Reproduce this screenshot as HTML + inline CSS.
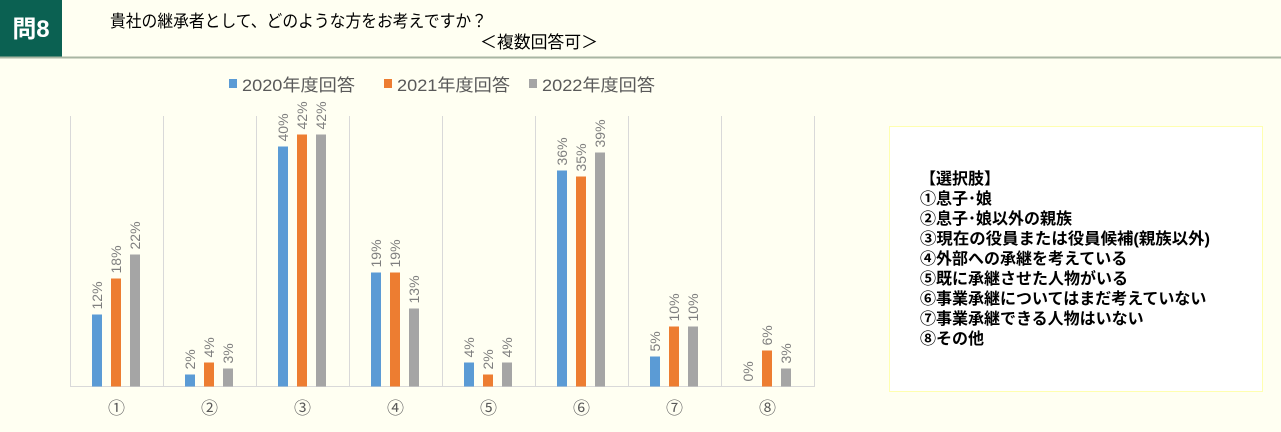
<!DOCTYPE html>
<html><head><meta charset="utf-8"><style>
body{margin:0;background:#fffff2;width:1281px;height:432px;overflow:hidden;font-family:"Liberation Sans","Noto Sans CJK JP",sans-serif}
</style></head><body>
<svg width="1281" height="432" xmlns="http://www.w3.org/2000/svg" style="position:absolute;left:0;top:0">
<rect x="0" y="0" width="1281" height="432" fill="#fffff2"/>
<rect x="0" y="0" width="62" height="57" fill="#0b6152"/>
<text x="31" y="37" fill="#fff" font-size="24" font-weight="bold" text-anchor="middle" font-family="Liberation Sans, Noto Sans CJK JP, sans-serif">問8</text>
<line x1="0" y1="57.5" x2="1281" y2="57.5" stroke="#a9b6a3" stroke-width="2"/>
<text x="110" y="27" font-size="17" fill="#000" textLength="377" lengthAdjust="spacingAndGlyphs" font-family="Liberation Sans, Noto Sans CJK JP, sans-serif">貴社の継承者として、どのような方をお考えですか？</text>
<text x="480" y="48" font-size="17" fill="#000" textLength="118" lengthAdjust="spacingAndGlyphs" font-family="Liberation Sans, Noto Sans CJK JP, sans-serif">＜複数回答可＞</text>
<g font-size="17" fill="#595959" font-family="Liberation Sans, Noto Sans CJK JP, sans-serif">
<rect x="229" y="79" width="8" height="9" fill="#5b9bd5"/><text x="242" y="91" textLength="113" lengthAdjust="spacingAndGlyphs">2020年度回答</text>
<rect x="384" y="79" width="8" height="9" fill="#ed7d31"/><text x="397" y="91" textLength="113" lengthAdjust="spacingAndGlyphs">2021年度回答</text>
<rect x="529" y="79" width="8" height="9" fill="#a5a5a5"/><text x="542" y="91" textLength="113" lengthAdjust="spacingAndGlyphs">2022年度回答</text>
</g>
<g stroke="#d9d9d9" stroke-width="1">
<line x1="70.5" y1="116" x2="70.5" y2="387"/><line x1="163.5" y1="116" x2="163.5" y2="387"/><line x1="256.5" y1="116" x2="256.5" y2="387"/><line x1="349.5" y1="116" x2="349.5" y2="387"/><line x1="442.5" y1="116" x2="442.5" y2="387"/><line x1="535.5" y1="116" x2="535.5" y2="387"/><line x1="628.5" y1="116" x2="628.5" y2="387"/><line x1="721.5" y1="116" x2="721.5" y2="387"/><line x1="814.5" y1="116" x2="814.5" y2="387"/>
<line x1="70" y1="386.5" x2="815" y2="386.5"/>
</g>
<g id="bars"></g>
<g font-size="17" fill="#595959" text-anchor="middle" font-family="Liberation Sans, Noto Sans CJK JP, sans-serif">
<text x="116.5" y="414">①</text><text x="209.5" y="414">②</text><text x="302.5" y="414">③</text><text x="395.5" y="414">④</text><text x="488.5" y="414">⑤</text><text x="581.5" y="414">⑥</text><text x="674.5" y="414">⑦</text><text x="767.5" y="414">⑧</text>
</g>
<rect x="889.5" y="126.5" width="373" height="265" fill="#fff" stroke="#ffffb0" stroke-width="1"/>
<g font-size="16" font-weight="bold" fill="#000" font-family="Liberation Sans, Noto Sans CJK JP, sans-serif">
<text x="920" y="184">【選択肢】</text>
<text x="920" y="204">①息子･娘</text>
<text x="920" y="224">②息子･娘以外の親族</text>
<text x="920" y="244" textLength="290" lengthAdjust="spacingAndGlyphs">③現在の役員または役員候補(親族以外)</text>
<text x="920" y="264">④外部への承継を考えている</text>
<text x="920" y="284">⑤既に承継させた人物がいる</text>
<text x="920" y="304">⑥事業承継についてはまだ考えていない</text>
<text x="920" y="324">⑦事業承継できる人物はいない</text>
<text x="920" y="344">⑧その他</text>
</g>
</svg>
<script>
var d=[[12,18,22],[2,4,3],[40,42,42],[19,19,13],[4,2,4],[36,35,39],[5,10,10],[0,6,3]];
var c=["#5b9bd5","#ed7d31","#a5a5a5"],off=[22,41,60],s="";
for(var i=0;i<8;i++)for(var j=0;j<3;j++){var v=d[i][j],x=70+93*i+off[j],h=v*6,y=386.5-h;
if(h>0)s+='<rect x="'+x+'" y="'+y+'" width="10" height="'+h+'" fill="'+c[j]+'"/>';
var tx=x+10,ty=y-5;
s+='<text transform="translate('+tx+','+ty+') rotate(-90)" font-size="14" fill="#7f7f7f" font-family="Liberation Sans, sans-serif">'+v+'%</text>';}
document.getElementById("bars").innerHTML=s;
</script>
</body></html>
